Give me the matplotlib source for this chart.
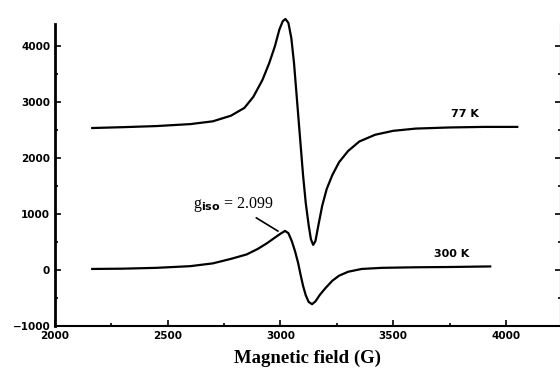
import matplotlib
matplotlib.use("Agg")
import matplotlib.pyplot as plt
from matplotlib.ticker import MultipleLocator

# EPR spectra (field in G, intensity in a.u.)
field_77 = [2165, 2300, 2450, 2600, 2700, 2780, 2840, 2880, 2920, 2950, 2975,
            2995, 3010, 3022, 3035, 3048, 3060, 3070, 3080, 3090, 3100, 3112,
            3125, 3135, 3145, 3155, 3168, 3185, 3205, 3230, 3260, 3300, 3350,
            3420, 3500, 3600, 3750, 3900, 4050]
signal_77 = [2540, 2555, 2575, 2610, 2660, 2760, 2900, 3100, 3400, 3700, 4000,
             4300, 4450, 4490, 4420, 4150, 3700, 3200, 2700, 2200, 1700, 1200,
             800, 550, 450, 520, 800, 1150, 1450, 1700, 1930, 2130, 2300,
             2420, 2490, 2530, 2550, 2560, 2560]

field_300 = [2165, 2300, 2450, 2600, 2700, 2780, 2850, 2900, 2940, 2975, 3000,
             3020, 3035, 3050, 3065, 3078, 3090, 3100, 3112, 3125, 3140, 3155,
             3175, 3200, 3230, 3260, 3300, 3360, 3450, 3600, 3750, 3930]
signal_300 = [20, 25, 40, 70, 120, 200, 280, 380, 480, 580, 650,
              700, 660, 520, 330, 130, -100, -280, -450, -570, -610, -560,
              -440, -320, -190, -100, -30, 20, 40, 50, 55, 65]

x_ticks = [2000, 2500, 3000, 3500, 4000]
y_ticks = [-1000, 0, 1000, 2000, 3000, 4000]

fig = plt.figure(figsize=(5.6, 3.72), dpi=100)
ax = fig.add_axes([55 / 560, 46 / 372, 506 / 560, 302 / 372])

ax.plot(field_77, signal_77, color="black", lw=1.6, clip_on=False)
ax.plot(field_300, signal_300, color="black", lw=1.6, clip_on=False)

ax.set_xlim(2000, 4244)
ax.set_ylim(-1000, 4400)
ax.set_xticks(x_ticks)
ax.set_yticks(y_ticks)
ax.xaxis.set_minor_locator(MultipleLocator(250))
ax.yaxis.set_minor_locator(MultipleLocator(500))
ax.tick_params(which="both", direction="in", right=True, top=False,
               labelsize=7.5, width=1.2)
ax.tick_params(which="major", length=4)
ax.tick_params(which="minor", length=2.5)
for lab in ax.get_xticklabels() + ax.get_yticklabels():
    lab.set_fontweight("bold")

ax.spines["top"].set_visible(False)
ax.spines["left"].set_linewidth(2)
ax.spines["bottom"].set_linewidth(1.5)
ax.spines["right"].set_linewidth(1.5)

ax.set_xlabel("Magnetic field (G)", family="Liberation Serif", weight="bold",
              fontsize=13.5, labelpad=6)

ax.text(3818, 2790, "77 K", fontsize=8, weight="bold", ha="center", va="center")
ax.text(3760, 285, "300 K", fontsize=8, weight="bold", ha="center", va="center")
ax.annotate(r"g$_{\mathbf{iso}}$ = 2.099", xy=(2989, 696), xytext=(2610, 1180),
            fontsize=11.5, family="Liberation Serif", va="center",
            arrowprops=dict(arrowstyle="-", color="black", lw=1.2,
                            shrinkA=2, shrinkB=0,
                            relpos=(0.7, 0.0)))

fig.savefig("out.png", dpi=100)
